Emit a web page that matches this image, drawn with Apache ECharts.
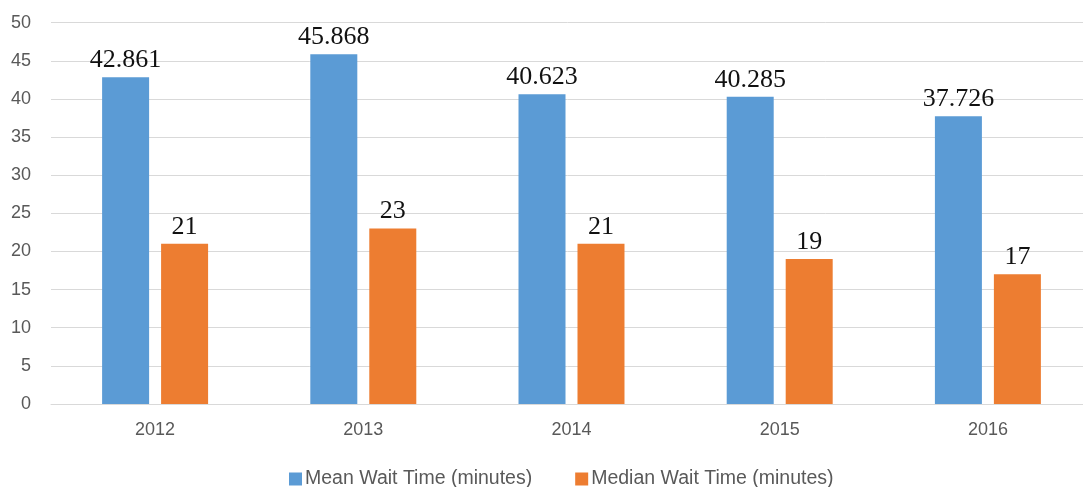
<!DOCTYPE html>
<html>
<head>
<meta charset="utf-8">
<script src="https://cdn.jsdelivr.net/npm/echarts@6/dist/echarts.min.js"></script>
<style>
html,body{margin:0;padding:0;background:#fff;}
#chart{width:1083px;height:487px;}
</style>
</head>
<body>
<div id="chart"></div>
<script>
var categories = ['2012', '2013', '2014', '2015', '2016'];
var meanWait = [42.861, 45.868, 40.623, 40.285, 37.726];
var medianWait = [21, 23, 21, 19, 17];
var seriesNames = ['Mean Wait Time (minutes)', 'Median Wait Time (minutes)'];
var yTicks = {min: 0, max: 50, interval: 5};

var chart = echarts.init(document.getElementById('chart'), null, {renderer: 'canvas'});
var labelStyle = {
  show: true,
  position: 'top',
  distance: 4,
  fontFamily: '"Liberation Serif", "Times New Roman", serif',
  fontSize: 26,
  color: '#111'
};
chart.setOption({
  animation: false,
  backgroundColor: '#fff',
  grid: {left: 51, width: 1041, top: 22.7, height: 381.3, containLabel: false, outerBoundsMode: 'none'},
  legend: {
    data: seriesNames,
    left: 284,
    top: 464,
    itemWidth: 13,
    itemHeight: 13,
    itemGap: 43,
    icon: 'rect',
    textStyle: {fontFamily: '"Liberation Sans", Arial, sans-serif', fontSize: 19.5, color: '#595959', padding: [0, 0, 0, -2]}
  },
  xAxis: {
    type: 'category',
    data: categories,
    axisLine: {show: true, lineStyle: {color: '#d9d9d9', width: 1}},
    axisTick: {show: false},
    axisLabel: {margin: 17, fontFamily: '"Liberation Sans", Arial, sans-serif', fontSize: 18, color: '#595959'}
  },
  yAxis: {
    type: 'value',
    min: yTicks.min,
    max: yTicks.max,
    interval: yTicks.interval,
    axisLine: {show: false},
    axisTick: {show: false},
    splitLine: {lineStyle: {color: '#d9d9d9', width: 1}},
    axisLabel: {margin: 20, fontFamily: '"Liberation Sans", Arial, sans-serif', fontSize: 18, color: '#595959'}
  },
  series: [
    {
      name: seriesNames[0],
      type: 'bar',
      data: meanWait,
      barWidth: 47,
      barGap: '25.5%',
      itemStyle: {color: '#5B9BD5'},
      label: labelStyle
    },
    {
      name: seriesNames[1],
      type: 'bar',
      data: medianWait,
      barWidth: 47,
      barGap: '25.5%',
      itemStyle: {color: '#ED7D31'},
      label: labelStyle
    }
  ]
});
</script>
</body>
</html>
